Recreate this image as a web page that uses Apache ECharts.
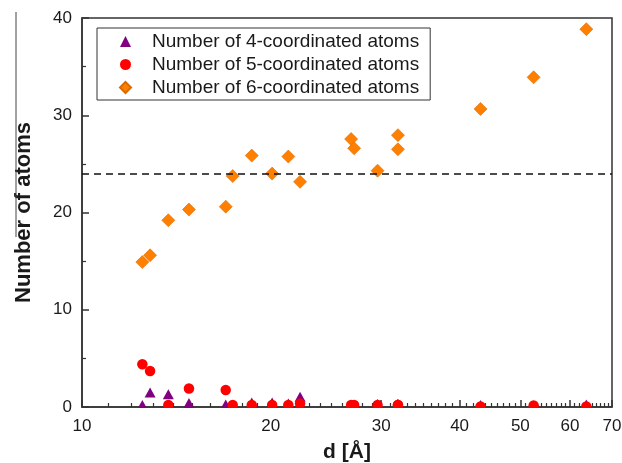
<!DOCTYPE html>
<html>
<head>
<meta charset="utf-8">
<script src="https://cdn.jsdelivr.net/npm/echarts@6/dist/echarts.min.js"></script>
<style>
  html, body { margin: 0; padding: 0; background: #fff; }
  #chart { width: 622px; height: 463px; }
</style>
</head>
<body>
<div id="chart"></div>
<script>
// Cluster size d [Å] for each sample
const distances = [12.48, 12.84, 13.73, 14.81, 16.95, 17.39, 18.65, 20.1, 21.33, 22.27,
                   26.86, 27.16, 29.6, 31.9, 31.9, 43.2, 52.5, 63.7];
// Atom counts per coordination number
const fourCoord = [0.2, 1.5, 1.3, 0.4, 0.25, 0.2, 0.45, 0.45, 0.35, 1.05,
                   0.2, 0.2, 0.3, 0.3, 0.3, 0.2, 0.1, 0.25];
const fiveCoord = [4.4, 3.7, 0.2, 1.9, 1.75, 0.2, 0.2, 0.2, 0.2, 0.35,
                   0.2, 0.2, 0.2, 0.2, 0.2, 0.05, 0.15, 0.05];
const sixCoord = [14.9, 15.6, 19.2, 20.3, 20.6, 23.75, 25.85, 24.0, 25.75, 23.15,
                  27.55, 26.6, 24.3, 27.95, 26.5, 30.65, 33.9, 38.85];
const seriesNames = ['Number of 4-coordinated atoms',
                     'Number of 5-coordinated atoms',
                     'Number of 6-coordinated atoms'];
// Horizontal reference level (dashed line)
const referenceLevel = 24;
// Tick values of the logarithmic d axis
const xMajorTicks = [10, 20, 30, 40, 50, 60, 70];
const xMinorTicks = [11, 12, 13, 14, 15, 16, 17, 18, 19,
                     21, 22, 23, 24, 25, 26, 27, 28, 29,
                     31, 32, 33, 34, 35, 36, 37, 38, 39,
                     41, 42, 43, 44, 45, 46, 47, 48, 49,
                     51, 52, 53, 54, 55, 56, 57, 58, 59,
                     61, 62, 63, 64, 65, 66, 67, 68, 69];
const yMin = 0, yMax = 40, yStep = 10;
const xMin = 10, xMax = 70;

const pairs = (ys) => distances.map((d, i) => [d, ys[i]]);

const FONT = '"Liberation Sans", Arial, sans-serif';
const INK = '#1a1a1a';
const GRID = { left: 82, right: 10, top: 18, bottom: 56 };

const chart = echarts.init(document.getElementById('chart'), null, { renderer: 'canvas' });

chart.setOption({
  animation: false,
  backgroundColor: '#fff',
  textStyle: { fontFamily: FONT },
  grid: Object.assign({
    show: true,
    borderColor: '#333',
    borderWidth: 1.5,
    outerBoundsMode: 'none',
    containLabel: false
  }, GRID),
  legend: {
    orient: 'vertical',
    left: 97,
    top: 28,
    padding: [4, 11, 3, 22],
    itemGap: 4,
    itemWidth: 11,
    itemHeight: 11,
    borderColor: '#333',
    borderWidth: 1,
    backgroundColor: '#fff',
    textStyle: { fontFamily: FONT, fontSize: 19, color: INK, padding: [0, 0, 0, 16] },
    data: seriesNames
  },
  xAxis: [
    {
      type: 'log',
      logBase: 10,
      min: xMin,
      max: xMax,
      position: 'bottom',
      name: 'd [Å]',
      nameLocation: 'middle',
      nameGap: 35,
      nameTextStyle: { fontFamily: FONT, fontSize: 21, fontWeight: 'bold', color: INK },
      axisLine: { show: true, lineStyle: { color: '#333', width: 1.5 } },
      axisTick: { show: true, inside: true, length: 7, customValues: xMajorTicks,
                  lineStyle: { color: '#333', width: 1.5 } },
      axisLabel: { show: true, customValues: xMajorTicks, margin: 11,
                   fontFamily: FONT, fontSize: 17, color: INK,
                   formatter: (v) => String(Math.round(v)) },
      minorTick: { show: false },
      splitLine: { show: false }
    },
    {
      type: 'log',
      logBase: 10,
      min: xMin,
      max: xMax,
      position: 'bottom',
      axisLine: { show: false },
      axisTick: { show: true, inside: true, length: 4, customValues: xMinorTicks,
                  lineStyle: { color: '#333', width: 1.2 } },
      axisLabel: { show: false },
      splitLine: { show: false }
    }
  ],
  yAxis: {
    type: 'value',
    min: yMin,
    max: yMax,
    interval: yStep,
    name: 'Number of atoms',
    nameLocation: 'middle',
    nameGap: 47,
    nameTextStyle: { fontFamily: FONT, fontSize: 22, fontWeight: 'bold', color: INK },
    axisLine: { show: true, lineStyle: { color: '#333', width: 1.5 } },
    axisTick: { show: true, inside: true, length: 7, lineStyle: { color: '#333', width: 1.5 } },
    minorTick: { show: true, splitNumber: 2, length: 4, lineStyle: { color: '#333', width: 1.2 } },
    axisLabel: { margin: 10, fontFamily: FONT, fontSize: 17, color: INK },
    splitLine: { show: false }
  },
  series: [
    {
      name: seriesNames[0],
      type: 'scatter',
      xAxisIndex: 0,
      symbol: 'triangle',
      symbolSize: [11, 10],
      itemStyle: { color: '#800080', opacity: 1 },
      data: pairs(fourCoord),
      z: 2
    },
    {
      name: seriesNames[1],
      type: 'scatter',
      xAxisIndex: 0,
      symbol: 'circle',
      symbolSize: 10.5,
      itemStyle: { color: '#ff0000', opacity: 1 },
      data: pairs(fiveCoord),
      z: 3
    },
    {
      name: seriesNames[2],
      type: 'scatter',
      xAxisIndex: 0,
      symbol: 'diamond',
      symbolSize: [13, 13],
      itemStyle: { color: '#ff8000', borderColor: '#d96a00', borderWidth: 0.6, opacity: 1 },
      data: pairs(sixCoord),
      z: 4,
      markLine: {
        silent: true,
        symbol: 'none',
        label: { show: false },
        lineStyle: { color: '#111', width: 1.5, type: [7, 5] },
        data: [{ yAxis: referenceLevel }]
      }
    }
  ],
  graphic: [
    // mask below the plot edge so markers sitting on the baseline are cut at the axis
    {
      type: 'rect',
      z: 50,
      silent: true,
      shape: { x: GRID.left + 1, y: 463 - GRID.bottom + 1, width: 622 - GRID.left - GRID.right - 2, height: 8 },
      style: { fill: '#fff' }
    },
    // thin rule at the left margin
    {
      type: 'line',
      z: 50,
      silent: true,
      shape: { x1: 16, y1: 12, x2: 16, y2: 237 },
      style: { stroke: '#444', lineWidth: 1 }
    }
  ]
});
</script>
</body>
</html>
